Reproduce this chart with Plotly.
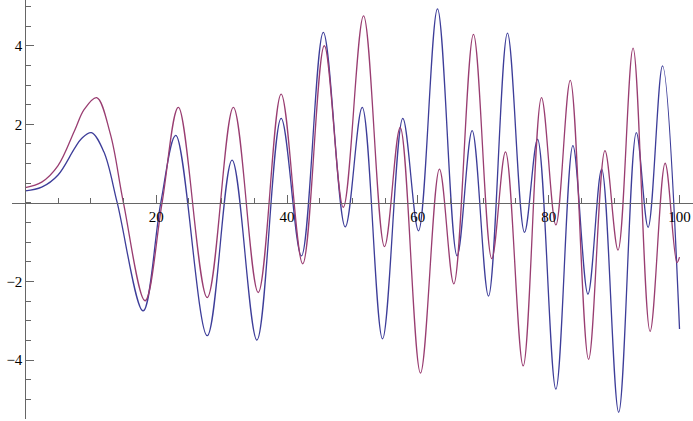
import plotly.graph_objects as go

# Series (extrema and a few anchor points)
purple_x = [0, 2.5, 5, 7.5, 9.0, 10.9, 13.0, 15.0, 18.3, 20.9, 23.4, 27.8, 31.8, 35.6, 39.1, 42.4,
            45.7, 48.6, 51.7, 54.9, 57.3, 60.4, 63.3, 65.5, 68.5, 71.3, 73.4, 76.1,
            78.9, 81.1, 83.3, 86.1, 88.6, 90.6, 92.9, 95.5, 97.8, 99.6, 100]
purple_y = [0.39, 0.53, 0.95, 1.83, 2.38, 2.68, 1.75, 0.0, -2.49, 0.0, 2.43, -2.41, 2.43, -2.28, 2.77, -1.55,
            4.0, -0.11, 4.76, -1.11, 1.92, -4.33, 0.86, -2.06, 4.29, -1.42, 1.30, -4.15,
            2.68, -0.56, 3.12, -3.98, 1.33, -1.20, 3.94, -3.27, 1.01, -1.52, -1.38]

blue_x = [0, 2.5, 5, 7.5, 8.6, 10.1, 12.0, 14.05, 18.0, 20.7, 23.0, 27.8, 31.6, 35.4, 39.1, 42.2,
          45.55, 48.9, 51.5, 54.6, 57.7, 60.1, 63.0, 66.0, 68.3, 70.8, 73.7, 76.3,
          78.3, 81.1, 83.7, 86.0, 88.1, 90.7, 93.4, 95.2, 97.4, 100]
blue_y = [0.305, 0.40, 0.71, 1.38, 1.64, 1.79, 1.30, 0.0, -2.75, 0.0, 1.72, -3.38, 1.09, -3.49, 2.15, -1.35,
          4.34, -0.61, 2.43, -3.46, 2.15, -0.71, 4.94, -1.35, 1.84, -2.37, 4.32, -0.75,
          1.62, -4.74, 1.46, -2.32, 0.86, -5.33, 1.79, -0.62, 3.49, -3.21]

x_tick_vals = [20, 40, 60, 80, 100]
x_tick_text = ["20", "40", "60", "80", "100"]
y_tick_vals = [-4, -2, 2, 4]
y_tick_text = ["\u22124", "\u22122", "2", "4"]

x_range = [-2.04, 102.06]
y_range = [-5.50, 5.165]

blue_col = "#3d3d99"
purple_col = "#993d71"
axis_col = "#666666"
font = dict(family="Liberation Serif, serif", size=15, color="#000000")

fig = go.Figure()
fig.add_trace(go.Scatter(x=blue_x, y=blue_y, mode="lines",
                         line=dict(color=blue_col, width=1.3, shape="spline", smoothing=1.0)))
fig.add_trace(go.Scatter(x=purple_x, y=purple_y, mode="lines",
                         line=dict(color=purple_col, width=1.3, shape="spline", smoothing=1.0)))

x_pos = (0 - y_range[0]) / (y_range[1] - y_range[0])
y_pos = (0 - x_range[0]) / (x_range[1] - x_range[0])

fig.update_layout(
    width=693, height=421,
    margin=dict(l=12, r=0, t=0, b=2, autoexpand=False),
    paper_bgcolor="white", plot_bgcolor="white",
    showlegend=False,
    font=font,
    xaxis=dict(range=x_range, anchor="free", position=x_pos, automargin=False,
               showgrid=False, zeroline=False, showline=True, linecolor=axis_col, linewidth=1,
               tickmode="array", tickvals=x_tick_vals, ticktext=x_tick_text,
               ticks="inside", ticklen=8, tickcolor=axis_col, tickwidth=1,
               minor=dict(dtick=5, tick0=0, ticks="inside", ticklen=4.5, tickcolor=axis_col,
                          showgrid=False),
               tickfont=font),
    yaxis=dict(range=y_range, anchor="free", position=y_pos, automargin=False,
               showgrid=False, zeroline=False, showline=True, linecolor=axis_col, linewidth=1,
               tickmode="array", tickvals=y_tick_vals, ticktext=y_tick_text,
               ticks="inside", ticklen=8, tickcolor=axis_col, tickwidth=1,
               minor=dict(dtick=0.5, tick0=0, ticks="inside", ticklen=4.5, tickcolor=axis_col,
                          showgrid=False),
               tickfont=font),
)

fig.write_html("out.html", config={"displayModeBar": False},
               post_script="document.body.style.margin='0';document.body.style.padding='0';")
